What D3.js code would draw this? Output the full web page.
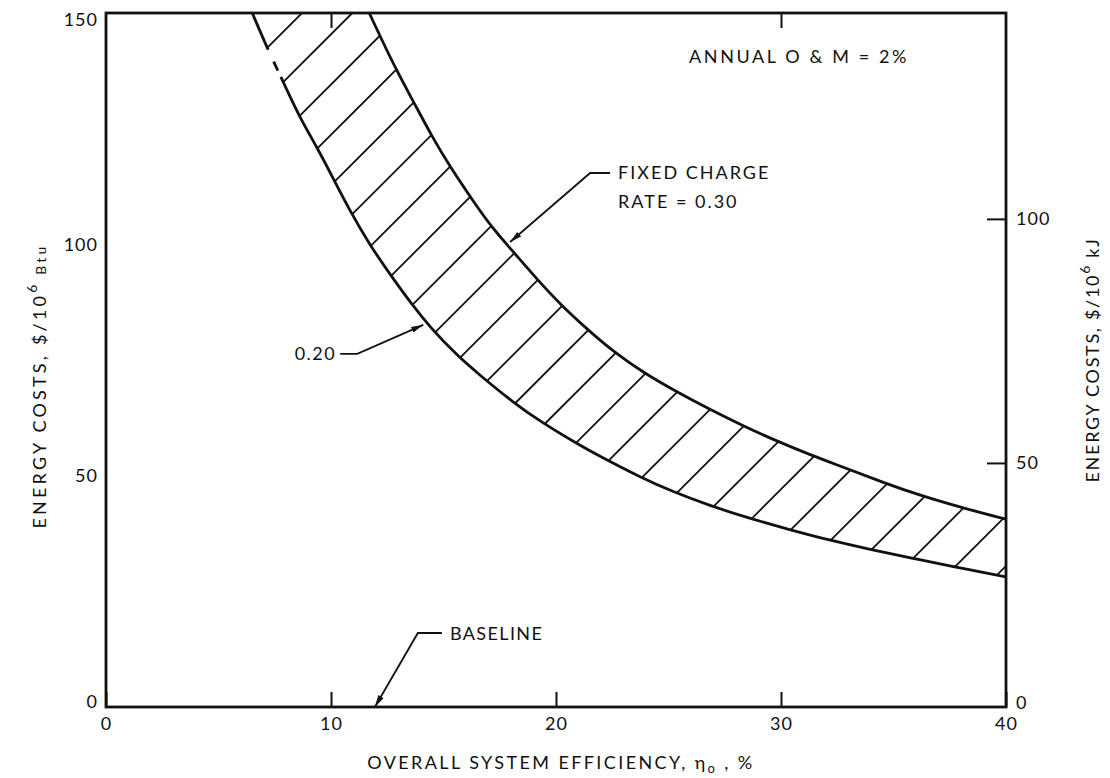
<!DOCTYPE html>
<html>
<head>
<meta charset="utf-8">
<script src="https://cdn.jsdelivr.net/npm/d3@7"></script>
<style>
  html, body { margin: 0; padding: 0; background: #fff; }
  svg { display: block; }
  text { font-family: "Lato", "DejaVu Sans", sans-serif; fill: #111; }
</style>
</head>
<body>
<svg id="chart" width="1110" height="778"></svg>
<script>
// ---------- data ----------
// Overall system efficiency (%) and energy cost ($/10^6 Btu)
const rate030Eff  = [11.7, 12.2, 12.9, 13.7, 14.5, 15.3, 16.2, 17.1, 18.1, 19.2, 20.2, 21.4, 22.5, 23.9, 25.3, 26.8, 28.3, 29.8, 31.4, 32.9, 34.5, 36.2, 38.1, 40];
const rate030Cost = [150, 144.8, 137.7, 130.5, 123.2, 116.7, 110.2, 103.9, 98.4, 92.2, 87.0, 81.6, 77.0, 72.2, 68.3, 64.4, 60.8, 57.5, 54.3, 51.6, 48.6, 45.7, 43.0, 40.6];
const rate020Eff  = [6.5, 7.2, 7.9, 8.6, 9.4, 10.1, 10.8, 11.7, 12.8, 13.6, 14.4, 15.6, 16.5, 18.1, 19.4, 20.8, 22.0, 23.7, 25.2, 26.8, 28.5, 30.4, 32.2, 34.0, 35.9, 37.6, 40];
const rate020Cost = [150, 142, 134.9, 127.5, 120.8, 114.2, 107.6, 100.0, 92.3, 87.0, 82.1, 76.0, 72.2, 65.8, 61.4, 57.3, 54.0, 49.8, 46.5, 43.6, 40.9, 38.3, 36.0, 34.0, 32.1, 30.4, 28.1];

const xTicks = [0, 10, 20, 30, 40];
const xTopTicks = [10, 30];
const yTicksBtu = [0, 50, 100, 150];
const yTicksKJ = [0, 50, 100];
const btuToKJ = 1.055;   // $/10^6 kJ = ($/10^6 Btu) / 1.055

// annotation anchors (data coords of arrow tips)
const annFixed = {eff: 17.96, cost: 100.5};
const ann020   = {eff: 14.1, cost: 82.6};
const annBase  = {eff: 11.95, cost: 0};

// ---------- layout ----------
const L = 106, R = 1006, T = 13, B = 707;
const svg = d3.select("#chart");

const x = d3.scaleLinear().domain([0, 40]).range([L, R]);
const y = d3.scaleLinear().domain([0, 150]).range([B, T]);
const y2 = d3.scaleLinear().domain([0, 150 / btuToKJ]).range([B, T]);

const upper = rate030Eff.map((e, i) => [e, rate030Cost[i]]);
const lower = rate020Eff.map((e, i) => [e, rate020Cost[i]]);

const line = d3.line().x(d => x(d[0])).y(d => y(d[1])).curve(d3.curveBasis);

// arrow marker
const defs = svg.append("defs");
defs.append("marker")
  .attr("id", "arr").attr("viewBox", "0 0 12 8").attr("refX", 12).attr("refY", 4)
  .attr("markerWidth", 13).attr("markerHeight", 8).attr("markerUnits", "userSpaceOnUse")
  .attr("orient", "auto")
  .append("path").attr("d", "M0,1 L12,4 L0,7 Z").attr("fill", "#111");

// clip for hatching: region between the two curves
const bandPath = line(lower) + "L" + line(upper.slice().reverse()).slice(1) + "Z";
defs.append("clipPath").attr("id", "band").append("path").attr("d", bandPath);
defs.append("clipPath").attr("id", "plot").append("rect")
  .attr("x", L).attr("y", T).attr("width", R - L).attr("height", B - T);

// hatch lines (x + y = c in screen space)
const hatchG = svg.append("g").attr("clip-path", "url(#plot)")
  .append("g").attr("clip-path", "url(#band)");
const cStart = 315, cEnd = 1572, nH = 25;
d3.range(nH + 1).forEach(k => {
  const c = cStart + (cEnd - cStart) * k / nH;
  hatchG.append("line")
    .attr("x1", c - T).attr("y1", T)
    .attr("x2", c - B).attr("y2", B)
    .attr("stroke", "#111").attr("stroke-width", 1.8);
});

// curves
const curveG = svg.append("g").attr("clip-path", "url(#plot)");
curveG.append("path").attr("d", line(upper))
  .attr("fill", "none").attr("stroke", "#111").attr("stroke-width", 2.8);
curveG.append("path").attr("d", line(lower))
  .attr("fill", "none").attr("stroke", "#111").attr("stroke-width", 2.8)
  .attr("stroke-dasharray", "40,13,10,7,3000");

// frame
svg.append("rect").attr("x", L).attr("y", T).attr("width", R - L).attr("height", B - T)
  .attr("fill", "none").attr("stroke", "#111").attr("stroke-width", 2.8);

// axes
const fs = 18, ls = 2.2;
const xAxis = svg.append("g").attr("transform", `translate(0,${B})`)
  .call(d3.axisBottom(x).tickValues(xTicks).tickFormat(d3.format("d"))
        .tickSizeInner(-15).tickSizeOuter(0).tickPadding(10));
const topAxis = svg.append("g").attr("transform", `translate(0,${T})`)
  .call(d3.axisTop(x).tickValues(xTopTicks).tickFormat("")
        .tickSizeInner(-15).tickSizeOuter(0));
const yAxis = svg.append("g").attr("transform", `translate(${L},0)`)
  .call(d3.axisLeft(y).tickValues(yTicksBtu).tickFormat(d3.format("d"))
        .tickSizeInner(0).tickSizeOuter(0).tickPadding(8));
const y2Axis = svg.append("g").attr("transform", `translate(${R},0)`)
  .call(d3.axisRight(y2).tickValues(yTicksKJ).tickFormat(d3.format("d"))
        .tickSizeInner(-19).tickSizeOuter(0).tickPadding(10));
[xAxis, topAxis, yAxis, y2Axis].forEach(g => {
  g.select(".domain").remove();
  g.selectAll(".tick line").attr("stroke", "#111").attr("stroke-width", 2);
  g.selectAll(".tick text").attr("font-size", fs).attr("fill", "#111")
    .attr("letter-spacing", 1)
    .style("font-family", "Lato, 'DejaVu Sans', sans-serif");
});
y2Axis.selectAll(".tick").filter(d => d === 0).select("line").remove();
yAxis.selectAll(".tick").filter(d => d === 0).select("text").attr("dy", "0.0em");
yAxis.selectAll(".tick").filter(d => d === 150).select("text").attr("dy", "0.7em");
y2Axis.selectAll(".tick").filter(d => d === 0).select("text").attr("dy", "0.1em");

// axis titles
const xt = svg.append("text").attr("x", 561).attr("y", 769)
  .attr("text-anchor", "middle").attr("font-size", fs).attr("letter-spacing", 2.4);
xt.append("tspan").text("OVERALL SYSTEM EFFICIENCY, η");
xt.append("tspan").attr("font-size", 13).attr("dy", 4).text("o");
xt.append("tspan").attr("dy", -4).text(" , %");

const lt = svg.append("text")
  .attr("transform", `translate(46,386) rotate(-90)`)
  .attr("text-anchor", "middle").attr("font-size", fs).attr("letter-spacing", 3.2);
lt.append("tspan").text("ENERGY COSTS, $/10");
lt.append("tspan").attr("font-size", 14).attr("dy", -9).text("6");
lt.append("tspan").attr("font-size", 14).attr("dy", 9).text(" Btu");

const rt = svg.append("text")
  .attr("transform", `translate(1099,360) rotate(-90)`)
  .attr("text-anchor", "middle").attr("font-size", fs).attr("letter-spacing", 1.7);
rt.append("tspan").text("ENERGY COSTS, $/10");
rt.append("tspan").attr("font-size", 14).attr("dy", -9).text("6");
rt.append("tspan").attr("dy", 9).text(" kJ");

// annotations
svg.append("text").attr("x", 689).attr("y", 63).attr("font-size", fs)
  .attr("letter-spacing", 2.6).text("ANNUAL O & M = 2%");

function leader(tip, elbowDx, elbowDy, hLen) {
  const tx = x(tip.eff), ty = y(tip.cost);
  const ex = tx + elbowDx, ey = ty + elbowDy;
  svg.append("path")
    .attr("d", `M${ex + hLen},${ey} L${ex},${ey} L${tx},${ty}`)
    .attr("fill", "none").attr("stroke", "#111").attr("stroke-width", 1.8)
    .attr("marker-end", "url(#arr)");
  return [ex + hLen, ey];
}
const pF = leader(annFixed, 80, -69, 20);
svg.append("text").attr("x", pF[0] + 8).attr("y", pF[1] + 6).attr("font-size", fs)
  .attr("letter-spacing", 2.0).text("FIXED CHARGE");
svg.append("text").attr("x", pF[0] + 8).attr("y", pF[1] + 35).attr("font-size", fs)
  .attr("letter-spacing", 2.0).text("RATE = 0.30");

const p2 = leader(ann020, -66, 29, -17);
svg.append("text").attr("x", p2[0] - 4).attr("y", p2[1] + 6).attr("font-size", fs)
  .attr("text-anchor", "end").attr("letter-spacing", 1.5).text("0.20");

const pB = leader(annBase, 43, -74, 24);
svg.append("text").attr("x", pB[0] + 8).attr("y", pB[1] + 7).attr("font-size", fs)
  .attr("letter-spacing", 1.4).text("BASELINE");
</script>
</body>
</html>
